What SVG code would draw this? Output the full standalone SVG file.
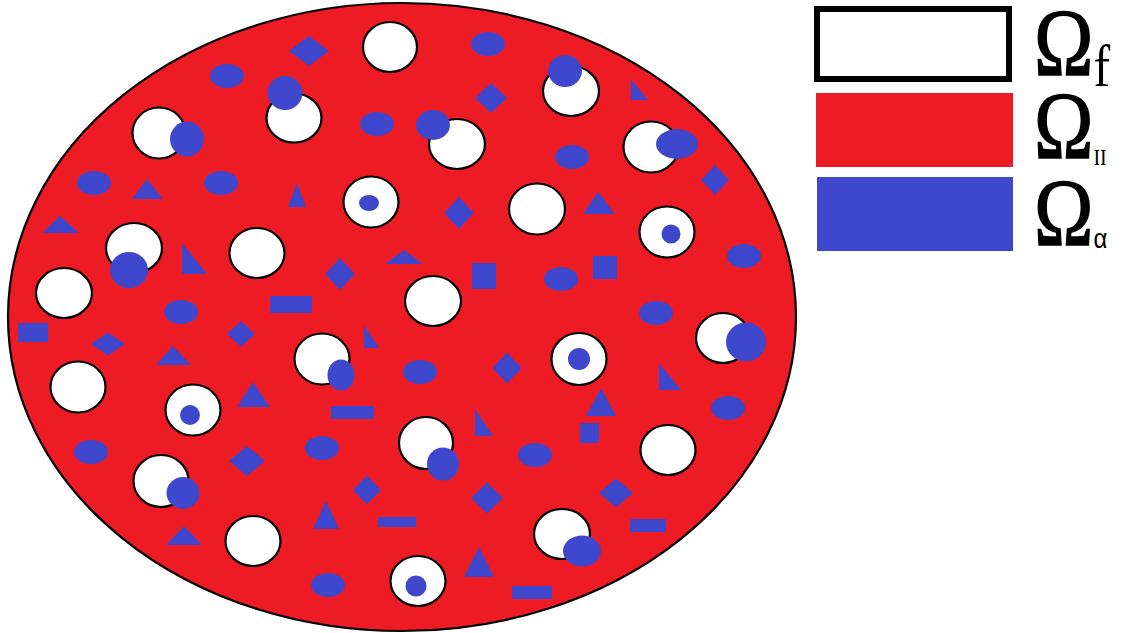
<svg xmlns="http://www.w3.org/2000/svg" width="1127" height="633" viewBox="0 0 1127 633">
<style>
.w{fill:#fff;stroke:#000;stroke-width:2.2}
.b{fill:#3F48CC}
.om{font-family:"Liberation Serif","Times New Roman",serif;font-size:80px;fill:#000}
</style>
<rect width="1127" height="633" fill="#fff"/>
<g id="domain">
<ellipse cx="402" cy="317" rx="394" ry="314" fill="#ED1C24" stroke="#000" stroke-width="2.2"/>
</g>
<g id="fibres">
<ellipse class="w" cx="390" cy="47" rx="27" ry="25"/>
<ellipse class="w" cx="294" cy="118" rx="27.5" ry="24.5"/>
<ellipse class="w" cx="159" cy="133" rx="26.5" ry="25.5"/>
<ellipse class="w" cx="571" cy="91" rx="28" ry="25"/>
<ellipse class="w" cx="457" cy="144" rx="28" ry="25"/>
<ellipse class="w" cx="651" cy="147" rx="27.5" ry="25.5"/>
<ellipse class="w" cx="371" cy="202" rx="27.5" ry="25.5"/>
<ellipse class="w" cx="537" cy="209" rx="28" ry="25.5"/>
<ellipse class="w" cx="667" cy="232" rx="27.5" ry="25.5"/>
<ellipse class="w" cx="134" cy="248" rx="28" ry="25"/>
<ellipse class="w" cx="257" cy="253" rx="27.5" ry="25"/>
<ellipse class="w" cx="64" cy="293" rx="28" ry="25"/>
<ellipse class="w" cx="433" cy="301" rx="28" ry="25"/>
<ellipse class="w" cx="723" cy="338" rx="27" ry="25"/>
<ellipse class="w" cx="322" cy="359" rx="27.5" ry="25.5"/>
<ellipse class="w" cx="579" cy="359" rx="27.5" ry="26"/>
<ellipse class="w" cx="78" cy="387" rx="27.5" ry="25.5"/>
<ellipse class="w" cx="193" cy="410" rx="27.5" ry="25.5"/>
<ellipse class="w" cx="426" cy="443" rx="27" ry="26"/>
<ellipse class="w" cx="668" cy="450" rx="27.5" ry="25"/>
<ellipse class="w" cx="161" cy="481" rx="27.5" ry="26"/>
<ellipse class="w" cx="253" cy="541" rx="27.5" ry="25"/>
<ellipse class="w" cx="562" cy="534" rx="28" ry="25"/>
<ellipse class="w" cx="418" cy="581" rx="27.5" ry="25"/>
</g>
<g id="alpha">
<ellipse class="b" cx="285" cy="93" rx="17.5" ry="17"/>
<ellipse class="b" cx="187" cy="139" rx="17" ry="17.5"/>
<ellipse class="b" cx="565" cy="71" rx="17" ry="16"/>
<ellipse class="b" cx="433" cy="125" rx="17" ry="15"/>
<ellipse class="b" cx="677" cy="144" rx="21" ry="15"/>
<ellipse class="b" cx="129" cy="270" rx="19" ry="18"/>
<ellipse class="b" cx="746" cy="342" rx="20" ry="19.5"/>
<ellipse class="b" cx="341" cy="375" rx="13.5" ry="15.5"/>
<ellipse class="b" cx="443" cy="464" rx="16" ry="16.5"/>
<ellipse class="b" cx="183" cy="493" rx="16.5" ry="16"/>
<ellipse class="b" cx="582" cy="551" rx="19" ry="15.5"/>
<ellipse class="b" cx="369" cy="203" rx="10" ry="8"/>
<ellipse class="b" cx="671" cy="234" rx="9.5" ry="9.5"/>
<ellipse class="b" cx="579" cy="359" rx="11" ry="11"/>
<ellipse class="b" cx="190" cy="415" rx="10" ry="10"/>
<ellipse class="b" cx="416" cy="586" rx="10.5" ry="10.5"/>
<ellipse class="b" cx="227" cy="76" rx="17" ry="12"/>
<ellipse class="b" cx="488" cy="44" rx="17" ry="12"/>
<ellipse class="b" cx="377" cy="124" rx="17" ry="12"/>
<ellipse class="b" cx="572" cy="157" rx="17" ry="12"/>
<ellipse class="b" cx="94" cy="183" rx="17" ry="12"/>
<ellipse class="b" cx="221" cy="183" rx="17" ry="12"/>
<ellipse class="b" cx="744" cy="256" rx="17" ry="12"/>
<ellipse class="b" cx="561" cy="279" rx="17" ry="12"/>
<ellipse class="b" cx="181" cy="312" rx="17" ry="12"/>
<ellipse class="b" cx="656" cy="313" rx="17" ry="12"/>
<ellipse class="b" cx="420" cy="372" rx="17" ry="12"/>
<ellipse class="b" cx="728" cy="408" rx="17" ry="12"/>
<ellipse class="b" cx="91" cy="452" rx="17" ry="12"/>
<ellipse class="b" cx="322" cy="448" rx="17" ry="12"/>
<ellipse class="b" cx="535" cy="455" rx="17" ry="12"/>
<ellipse class="b" cx="328" cy="585" rx="17" ry="12"/>
<polygon class="b" points="147,179 163,199 132,199"/>
<polygon class="b" points="297,183 306,207 288,207"/>
<polygon class="b" points="60,216 79,233 42,233"/>
<polygon class="b" points="182,243 182,274 207,274"/>
<polygon class="b" points="404,250 423,264 385,264"/>
<polygon class="b" points="631,79 631,100 648,100"/>
<polygon class="b" points="598,192 615,214 583,214"/>
<polygon class="b" points="173,346 191,365 156,365"/>
<polygon class="b" points="364,325 364,348 379,348"/>
<polygon class="b" points="253,382 270,407 237,407"/>
<polygon class="b" points="659,363 659,390 681,390"/>
<polygon class="b" points="601,388 616,416 586,416"/>
<polygon class="b" points="475,409 475,436 493,436"/>
<polygon class="b" points="326,501 339,529 313,529"/>
<polygon class="b" points="184,526 202,545 166,545"/>
<polygon class="b" points="479,547 494,577 464,577"/>
<polygon class="b" points="309,36 329,51 309,66 289,51"/>
<polygon class="b" points="491,83 507,98 491,113 475,98"/>
<polygon class="b" points="715,165 729,180 715,195 701,180"/>
<polygon class="b" points="459,197 474,213 459,229 444,213"/>
<polygon class="b" points="340,258 355,274 340,290 325,274"/>
<polygon class="b" points="108,332.5 125,344 108,355.5 91,344"/>
<polygon class="b" points="241,321 255,334 241,347 227,334"/>
<polygon class="b" points="507,352.5 521.5,368 507,383.5 492.5,368"/>
<polygon class="b" points="247,446 265,461 247,476 229,461"/>
<polygon class="b" points="367,475.5 381,490 367,504.5 353,490"/>
<polygon class="b" points="487,482.5 503,498 487,513.5 471,498"/>
<polygon class="b" points="616,478.5 633,493 616,507.5 599,493"/>
<rect class="b" x="270" y="296" width="42" height="17"/>
<rect class="b" x="18" y="323" width="30" height="19"/>
<rect class="b" x="331" y="406" width="43" height="13"/>
<rect class="b" x="378" y="517" width="38" height="10"/>
<rect class="b" x="630" y="519" width="36" height="13"/>
<rect class="b" x="512" y="586" width="40" height="13"/>
<rect class="b" x="472" y="263" width="24" height="26"/>
<rect class="b" x="593" y="256" width="24" height="23"/>
<rect class="b" x="580" y="423" width="19" height="20"/>
</g>
<g id="legend">
<rect x="817" y="9" width="192" height="70" fill="#fff" stroke="#000" stroke-width="6"/>
<rect x="816" y="93" width="197" height="74" fill="#ED1C24"/>
<rect x="817" y="177" width="196" height="74" fill="#3F48CC"/>
<text class="om" transform="translate(1034,75) scale(1,1.19)" stroke="#000" stroke-width="1.2">Ω<tspan dy="9.5" font-size="50" stroke-width="0">f</tspan></text>
<text class="om" transform="translate(1034,158) scale(1,1.19)" stroke="#000" stroke-width="1.2">Ω<tspan dy="6" font-size="20" stroke-width="0">II</tspan></text>
<text class="om" transform="translate(1034,245) scale(1,1.19)" stroke="#000" stroke-width="1.2">Ω<tspan dy="2.5" font-size="24" stroke-width="0" font-family="'Liberation Sans',Arial,sans-serif">α</tspan></text>
</g>
</svg>
